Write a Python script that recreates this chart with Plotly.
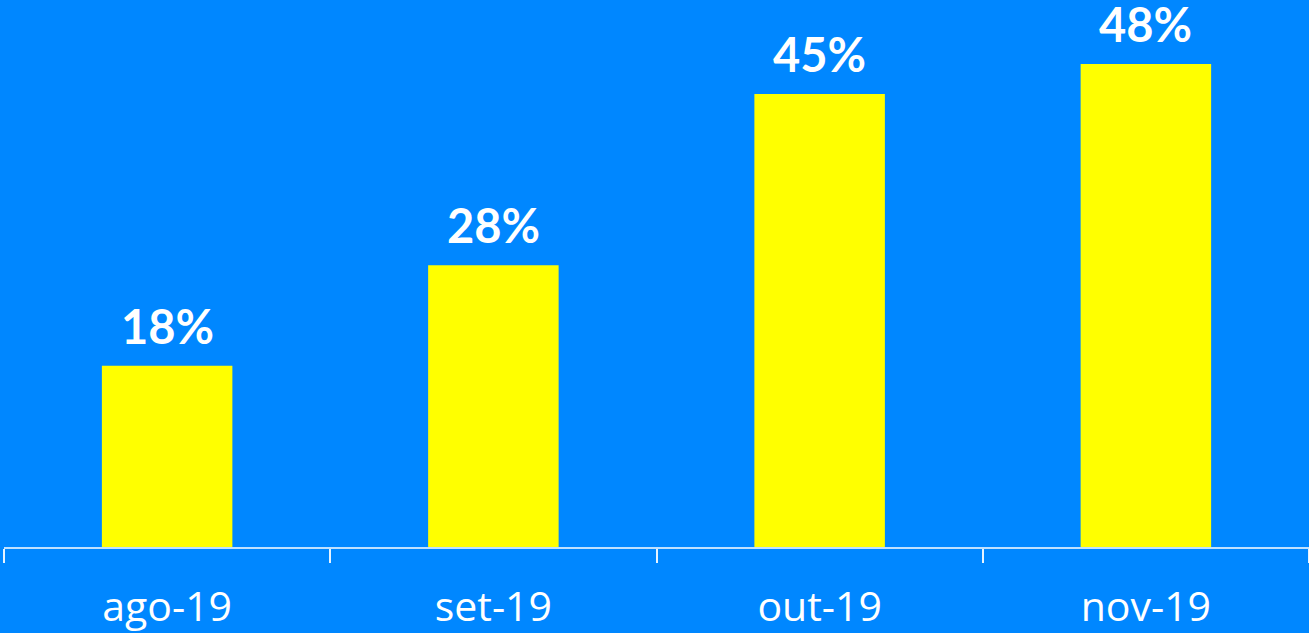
import plotly.graph_objects as go

categories = ["ago-19", "set-19", "out-19", "nov-19"]
values = [18, 28, 45, 48]
labels = ["18%", "28%", "45%", "48%"]

BG = "#0087FF"

fig = go.Figure()
fig.add_trace(go.Bar(
    x=categories, y=values, width=0.4,
    marker=dict(color="#FFFF00", line=dict(width=0)),
    hoverinfo="skip",
))

for c, v, t in zip(categories, values, labels):
    fig.add_annotation(
        x=c, y=v, text="<b>%s</b>" % t, showarrow=False,
        yanchor="bottom", yshift=10,
        font=dict(family="Lato", size=47, color="white"),
    )

fig.update_layout(
    width=1309, height=633,
    margin=dict(l=4, r=0, t=0, b=86),
    paper_bgcolor=BG, plot_bgcolor=BG,
    showlegend=False,
    xaxis=dict(
        type="category", range=[-0.5, 3.5],
        showline=True, linecolor="rgba(255,255,255,0.75)", linewidth=2,
        ticks="outside", tickson="boundaries", ticklen=14, tickwidth=1.5,
        tickcolor="rgba(255,255,255,0.9)",
        tickfont=dict(family="Open Sans", size=41, color="white"),
        showgrid=False, zeroline=False,
        ticklabelstandoff=23,
    ),
    yaxis=dict(range=[0, 54.35], visible=False, showgrid=False, zeroline=False),
)

fig.write_html(
    "out.html",
    config={"displayModeBar": False},
    post_script="document.body.style.margin='0';document.body.style.background='%s';" % BG,
)
